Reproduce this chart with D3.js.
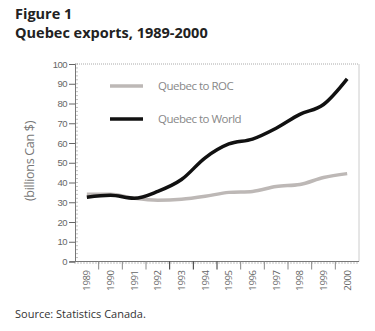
<!DOCTYPE html>
<html>
<head>
<meta charset="utf-8">
<script src="https://cdn.jsdelivr.net/npm/d3@7"></script>
<style>
  body { margin: 0; background: #fff; }
  svg { display: block; font-family: "Open Sans", sans-serif; }
</style>
</head>
<body>
<script>
const w = 375;
const h = 331;

const years = ['1989', '1990', '1991', '1992', '1993', '1994', '1995', '1996', '1997', '1998', '1999', '2000'];
const toRoc = [34, 34, 32, 31, 31.5, 33, 35, 35.5, 38, 39, 42.5, 44.5];
const toWorld = [32.5, 33.5, 32, 35.5, 41.5, 52.5, 59.5, 62, 67.5, 74.5, 79.5, 92.5];
const yTicks = [0, 10, 20, 30, 40, 50, 60, 70, 80, 90, 100];
const seriesNames = ['Quebec to ROC', 'Quebec to World'];

const svg = d3.select('body').append('svg').attr('width', w).attr('height', h);

// scales
const xScale = d3.scaleBand().domain(years).range([75, 359]);
const yScale = d3.scaleLinear().domain([0, 100]).range([261.5, 64]);
const cx = (d) => xScale(d) + xScale.bandwidth() / 2;

// titles
svg.append('text').attr('x', 15).attr('y', 19)
  .attr('font-size', 14.5).attr('font-weight', 'bold').attr('fill', '#222')
  .text('Figure 1');
svg.append('text').attr('x', 15).attr('y', 38)
  .attr('font-size', 14.5).attr('font-weight', 'bold').attr('fill', '#222')
  .text('Quebec exports, 1989-2000');

// frame: top and right borders
svg.append('line').attr('x1', 75).attr('x2', 359).attr('y1', 64).attr('y2', 64)
  .attr('stroke', '#aaa').attr('stroke-dasharray', '1,1');
svg.append('line').attr('x1', 359).attr('x2', 359).attr('y1', 64).attr('y2', 261.5)
  .attr('stroke', '#ccc');

// minor ticks on y
svg.append('g')
  .selectAll('line')
  .data(d3.range(0, 101, 2))
  .enter()
  .append('line')
  .attr('x1', 75).attr('x2', 78)
  .attr('y1', (d) => yScale(d)).attr('y2', (d) => yScale(d))
  .attr('stroke', '#999').attr('stroke-width', 0.6);

// minor ticks on x
svg.append('g')
  .selectAll('line')
  .data(d3.range(75, 360, 3))
  .enter()
  .append('line')
  .attr('x1', (d) => d).attr('x2', (d) => d)
  .attr('y1', 261.5).attr('y2', 264)
  .attr('stroke', '#999').attr('stroke-width', 0.6);

// y axis
const yAxis = d3.axisLeft(yScale).tickValues(yTicks).tickSize(6).tickPadding(2);
const gy = svg.append('g').attr('transform', 'translate(75,0)').call(yAxis);
gy.select('.domain').attr('stroke', '#777');
gy.selectAll('.tick line').attr('stroke', '#666');
gy.selectAll('.tick text').attr('fill', '#666').attr('font-size', 9.5).attr('letter-spacing', -0.5);

// x axis, ticks at category boundaries
const bounds = years.slice(1).map((d) => xScale(d));
const gx = svg.append('g').attr('transform', 'translate(0,261.5)');
gx.append('line').attr('x1', 70).attr('x2', 359).attr('stroke', '#777');
gx.selectAll('line.tk')
  .data(bounds)
  .enter()
  .append('line')
  .attr('class', 'tk')
  .attr('x1', (d) => d).attr('x2', (d) => d)
  .attr('y1', 0).attr('y2', 8)
  .attr('stroke', (d, i) => (i >= 3 && i <= 5) ? '#333' : '#888');
gx.selectAll('text')
  .data(years)
  .enter()
  .append('text')
  .attr('transform', (d) => 'translate(' + (cx(d) + 3.5) + ',9) rotate(-90)')
  .attr('text-anchor', 'end')
  .attr('font-size', 9.5)
  .attr('letter-spacing', -0.4)
  .attr('fill', '#666')
  .text((d) => d);

// y axis label
svg.append('text')
  .attr('transform', 'translate(34,161) rotate(-90)')
  .attr('text-anchor', 'middle')
  .attr('font-size', 12.5)
  .attr('fill', '#777')
  .attr('letter-spacing', -0.3)
  .text('(billions Can $)');

// lines
const line = d3.line()
  .x((d, i) => cx(years[i]))
  .y((d) => yScale(d))
  .curve(d3.curveMonotoneX);

svg.append('path').datum(toRoc)
  .attr('d', line)
  .attr('fill', 'none')
  .attr('stroke', '#bdb8b6')
  .attr('stroke-width', 3.5);

svg.append('path').datum(toWorld)
  .attr('d', line)
  .attr('fill', 'none')
  .attr('stroke', '#111')
  .attr('stroke-width', 3.5);

// legend
const legend = svg.append('g');
const legendColors = ['#bdb8b6', '#111'];
seriesNames.forEach((name, i) => {
  const ly = 86 + i * 33;
  legend.append('line').attr('x1', 110).attr('x2', 143).attr('y1', ly).attr('y2', ly)
    .attr('stroke', legendColors[i]).attr('stroke-width', 3.5);
  legend.append('text').attr('x', 158).attr('y', ly + 4)
    .attr('font-size', 11.5).attr('fill', '#888').attr('letter-spacing', -0.5)
    .text(name);
});

// source
svg.append('text').attr('x', 15).attr('y', 318)
  .attr('font-size', 11).attr('fill', '#333')
  .text('Source: Statistics Canada.');
</script>
</body>
</html>
